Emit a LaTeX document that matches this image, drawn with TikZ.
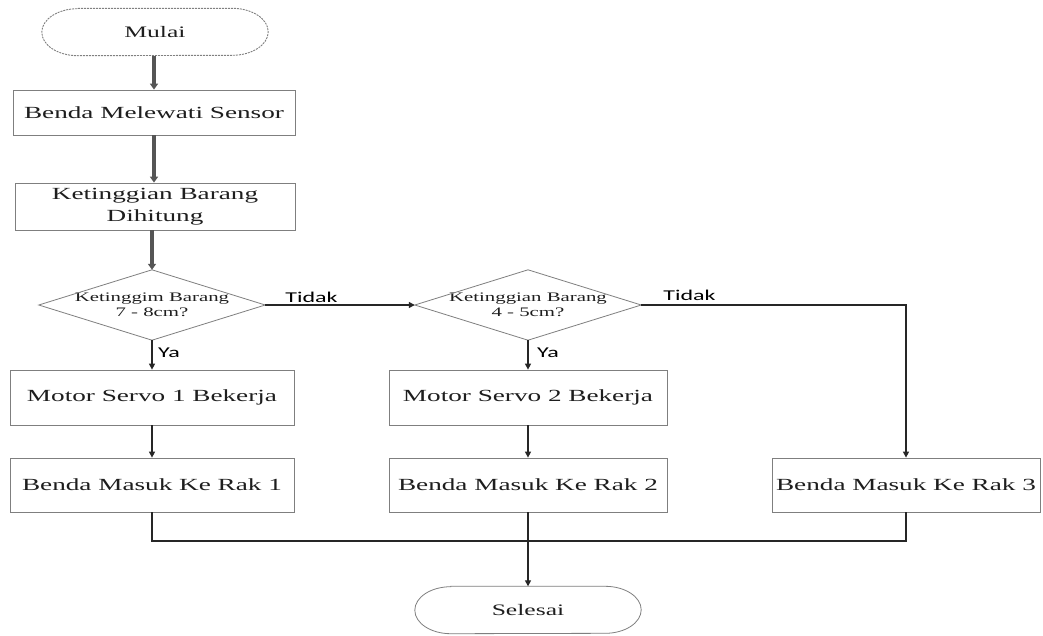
\documentclass[tikz,border=0pt]{standalone}
\usepackage{fontspec}
\setmainfont{Liberation Serif}[FakeStretch=1.6]
\newfontfamily\labfont{Carlito}[FakeStretch=1.6]
\usetikzlibrary{arrows.meta}
\definecolor{boxgray}{HTML}{7F7F7F}
\definecolor{argray}{HTML}{555555}
\definecolor{txtgray}{HTML}{1E1E1E}
\begin{document}
\begin{tikzpicture}[x=1pt,y=-1pt,
  box/.style={draw=boxgray, line width=0.8pt, inner sep=2pt, align=center,
    text=txtgray, font=\fontsize{17}{22}\selectfont},
  term/.style={draw=none, inner sep=2pt, minimum width=226pt, minimum height=47pt,
    text=txtgray, font=\fontsize{16}{20}\selectfont},
  dtext/.style={draw=none, inner sep=0pt, minimum width=226pt, minimum height=70pt,
    align=center, text=txtgray, font=\fontsize{13}{15}\selectfont},
  dline/.style={draw=boxgray, line width=0.8pt},
  lab/.style={inner sep=1pt, text=black, font=\labfont\fontsize{15}{17}\selectfont},
  uarrow/.style={draw=argray, line width=3.2pt, -{Triangle[length=6pt,width=8pt]}},
  larrow/.style={draw=black!85, line width=1.3pt, -{Triangle[length=6pt,width=6pt]}},
  lline/.style={draw=black!85, line width=1.3pt}
]
\useasboundingbox (0,0) rectangle (1043,635);
\fill[white] (0,0) rectangle (1043,635);

% nodes
\node[term] (mulai) at (155,32) {Mulai};
\node[box, minimum width=282pt, minimum height=45pt] (b1) at (154,112.5) {Benda Melewati Sensor};
\node[box, minimum width=280pt, minimum height=47pt] (b2) at (155,206.5) {Ketinggian Barang\\Dihitung};
\node[dtext] (d1) at (152,305) {Ketinggim Barang\\7 - 8cm?};
\node[dtext] (d2) at (528,305) {Ketinggian Barang\\4 - 5cm?};
\node[box, minimum width=284pt, minimum height=55pt] (m1) at (152,397.5) {Motor Servo 1 Bekerja};
\node[box, minimum width=278pt, minimum height=55pt] (m2) at (528,397.5) {Motor Servo 2 Bekerja};
\node[box, minimum width=284pt, minimum height=54pt] (r1) at (152,485) {Benda Masuk Ke Rak 1};
\node[box, minimum width=278pt, minimum height=54pt] (r2) at (528,485) {Benda Masuk Ke Rak 2};
\node[box, minimum width=268pt, minimum height=54pt] (r3) at (906,485) {Benda Masuk Ke Rak 3};
\node[term] (selesai) at (528,610) {Selesai};
\coordinate (j) at (528,541);

% terminal outlines
\draw[draw=gray, line width=0.9pt, dash pattern=on 2pt off 1pt]
  ([xshift=36pt]mulai.north west) -- ([xshift=-36pt]mulai.north east)
  arc[start angle=90,end angle=-90,x radius=36pt,y radius=23.5pt]
  -- ([xshift=36pt]mulai.south west)
  arc[start angle=270,end angle=90,x radius=36pt,y radius=23.5pt] -- cycle;
\draw[draw=boxgray, line width=0.8pt]
  ([xshift=36pt]selesai.north west) -- ([xshift=-36pt]selesai.north east)
  arc[start angle=90,end angle=-90,x radius=36pt,y radius=23.5pt]
  -- ([xshift=36pt]selesai.south west)
  arc[start angle=270,end angle=90,x radius=36pt,y radius=23.5pt] -- cycle;

% diamonds
\draw[dline] (d1.north) -- (d1.east) -- (d1.south) -- (d1.west) -- cycle;
\draw[dline] (d2.north) -- (d2.east) -- (d2.south) -- (d2.west) -- cycle;

% connectors
\draw[uarrow] (mulai.south -| b1.north) -- (b1.north);
\draw[uarrow] (b1.south) -- (b1.south |- b2.north);
\draw[uarrow] (d1.north |- b2.south) -- (d1.north);
\draw[larrow] (d1.east) -- (d2.west);
\draw[larrow] (d2.east) -| (r3.north);
\draw[larrow] (d1.south) -- (m1.north);
\draw[larrow] (d2.south) -- (m2.north);
\draw[larrow] (m1.south) -- (r1.north);
\draw[larrow] (m2.south) -- (r2.north);
\draw[lline] (r1.south) |- (j) -| (r3.south);
\draw[larrow] (r2.south) -- (selesai.north);

% labels
\node[lab, anchor=south west] (t1) at ([xshift=19pt,yshift=1pt]d1.east) {Tidak};
\node[lab, anchor=south west] (t2) at ([xshift=21pt,yshift=3pt]d2.east) {Tidak};
\node[lab, anchor=west] (y1) at ([xshift=5pt,yshift=-13pt]d1.south) {Ya};
\node[lab, anchor=west] (y2) at ([xshift=8pt,yshift=-13pt]d2.south) {Ya};
\end{tikzpicture}
\end{document}
